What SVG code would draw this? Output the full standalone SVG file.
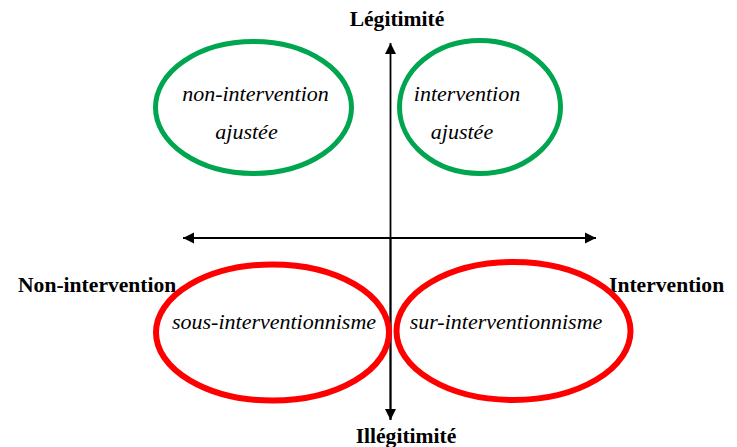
<svg xmlns="http://www.w3.org/2000/svg" width="737" height="447" viewBox="0 0 737 447">
<defs>
<marker id="ah" markerWidth="12" markerHeight="12" viewBox="0 0 12 12" refX="11" refY="6" orient="auto" markerUnits="userSpaceOnUse">
<path d="M0,0.5 L11,6 L0,11.5 Z" fill="#000"/>
</marker>
<style>
.ax{stroke:#000;stroke-width:1.8;fill:none}
.g{fill:none;stroke:#00A550;stroke-width:5}
.r{fill:none;stroke:#FF0000;stroke-width:6}
.b{font-family:"Liberation Serif","Times New Roman",serif;font-weight:bold;font-size:21.6px;fill:#000}
.i{font-family:"Liberation Serif","Times New Roman",serif;font-style:italic;font-size:22px;fill:#000}
</style>
</defs>
<rect width="737" height="447" fill="#fff"/>
<g id="connectors">
<line class="ax" x1="390.5" y1="420" x2="390.5" y2="43" marker-end="url(#ah)"/>
<line class="ax" x1="390.5" y1="238" x2="390.5" y2="420" marker-end="url(#ah)"/>
<line class="ax" x1="390" y1="238" x2="183" y2="238" marker-end="url(#ah)"/>
<line class="ax" x1="390" y1="238" x2="596" y2="238" marker-end="url(#ah)"/>
</g>
<g id="axis-labels">
<text class="b" x="397" y="26" text-anchor="middle">Légitimité</text>
<text class="b" x="406" y="443" text-anchor="middle">Illégitimité</text>
<text class="b" x="18" y="292">Non-intervention</text>
<text class="b" x="609" y="292">Intervention</text>
</g>
<g id="non-intervention-ajustee">
<ellipse class="g" cx="253.5" cy="107.5" rx="98" ry="66"/>
<text class="i" x="255.5" y="101" text-anchor="middle">non-intervention</text>
<text class="i" x="246.5" y="139" text-anchor="middle">ajustée</text>
</g>
<g id="intervention-ajustee">
<ellipse class="g" cx="480" cy="107" rx="80.5" ry="66.5"/>
<text class="i" x="467" y="101" text-anchor="middle">intervention</text>
<text class="i" x="462" y="139" text-anchor="middle">ajustée</text>
</g>
<g id="sous-interventionnisme">
<ellipse class="r" cx="272.5" cy="332.5" rx="116.5" ry="68"/>
<text class="i" x="274" y="329" text-anchor="middle">sous-interventionnisme</text>
</g>
<g id="sur-interventionnisme">
<ellipse class="r" cx="513.5" cy="331" rx="117" ry="69"/>
<text class="i" x="506" y="329" text-anchor="middle">sur-interventionnisme</text>
</g>
</svg>
